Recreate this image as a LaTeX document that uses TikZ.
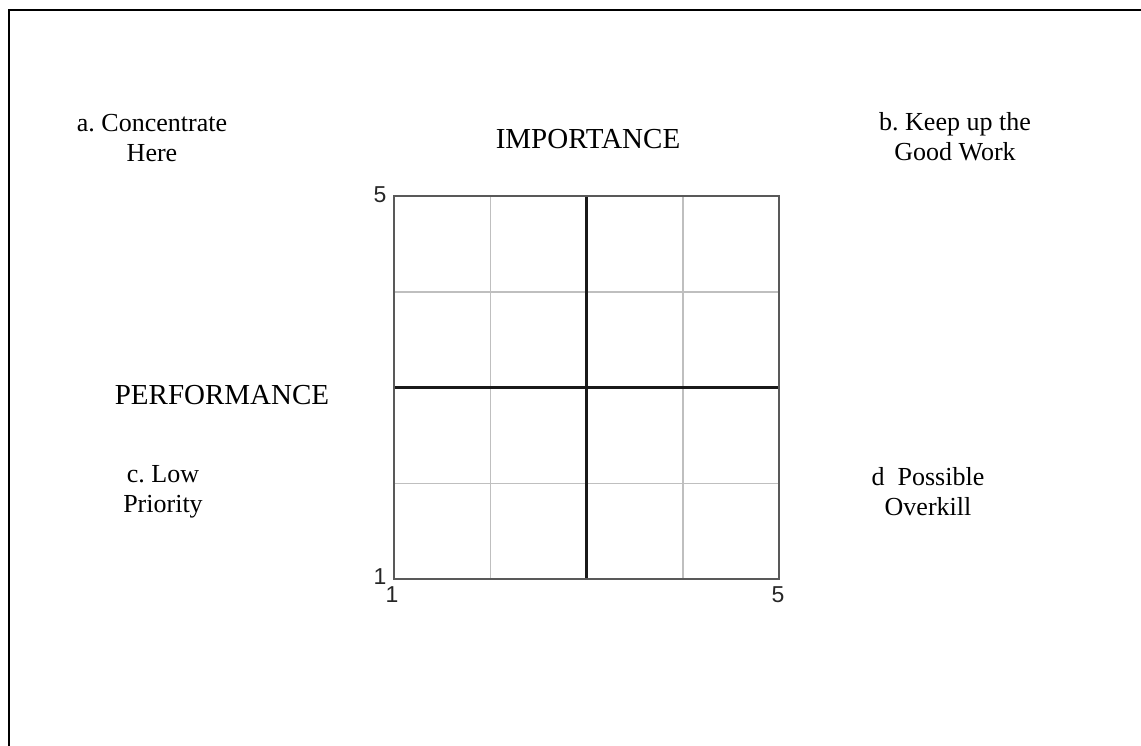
\documentclass[tikz,border=0pt]{standalone}
\usepackage{fontspec}
\setmainfont{Liberation Serif}
\newfontfamily\arialf{Liberation Sans}
\begin{document}
\frenchspacing
\begin{tikzpicture}[x=1pt,y=-1pt,
  lbl/.style={font=\fontsize{26}{30}\selectfont, align=center, inner sep=0pt},
  head/.style={font=\fontsize{29}{33}\selectfont, inner sep=0pt},
  num/.style={font=\arialf\fontsize{23}{24}\selectfont, inner sep=0pt, text=black!85},
  minor/.style={draw=black!25, line width=1.5pt},
  major/.style={draw=black!90, line width=2.5pt},
  outer/.style={draw=black!65, line width=2.5pt}]
\useasboundingbox (0,0) rectangle (1141,746);
% page frame (left and top edges visible)
\draw[line width=2pt] (8.5,760) -- (8.5,10) -- (1150,10);
% grid
\foreach \i in {1,3}{
  \draw[minor] (394+96.25*\i,196) -- (394+96.25*\i,579);
  \draw[minor] (394,196+95.75*\i) -- (779,196+95.75*\i);
}
\draw[major] (586.5,196) -- (586.5,579);
\draw[major] (394,387.5) -- (779,387.5);
\draw[outer] (394,196) rectangle (779,579);
% texts
\node[lbl] (a) at (152,138) {a. Concentrate\\Here};
\node[head] (imp) at (588,139) {IMPORTANCE};
\node[lbl] (b) at (955,137) {b. Keep up the\\Good Work};
\node[head] (perf) at (222,395) {PERFORMANCE};
\node[lbl] (c) at (163,492) {c. Low\\Priority};
\node[lbl] (d) at (928,492) {d\ \ Possible\\Overkill};
% axis numbers
\node[num] (y5) at (380,195) {5};
\node[num] (y1) at (380,577) {1};
\node[num] (x1) at (392,595) {1};
\node[num] (x5) at (778,595) {5};
\end{tikzpicture}
\end{document}
